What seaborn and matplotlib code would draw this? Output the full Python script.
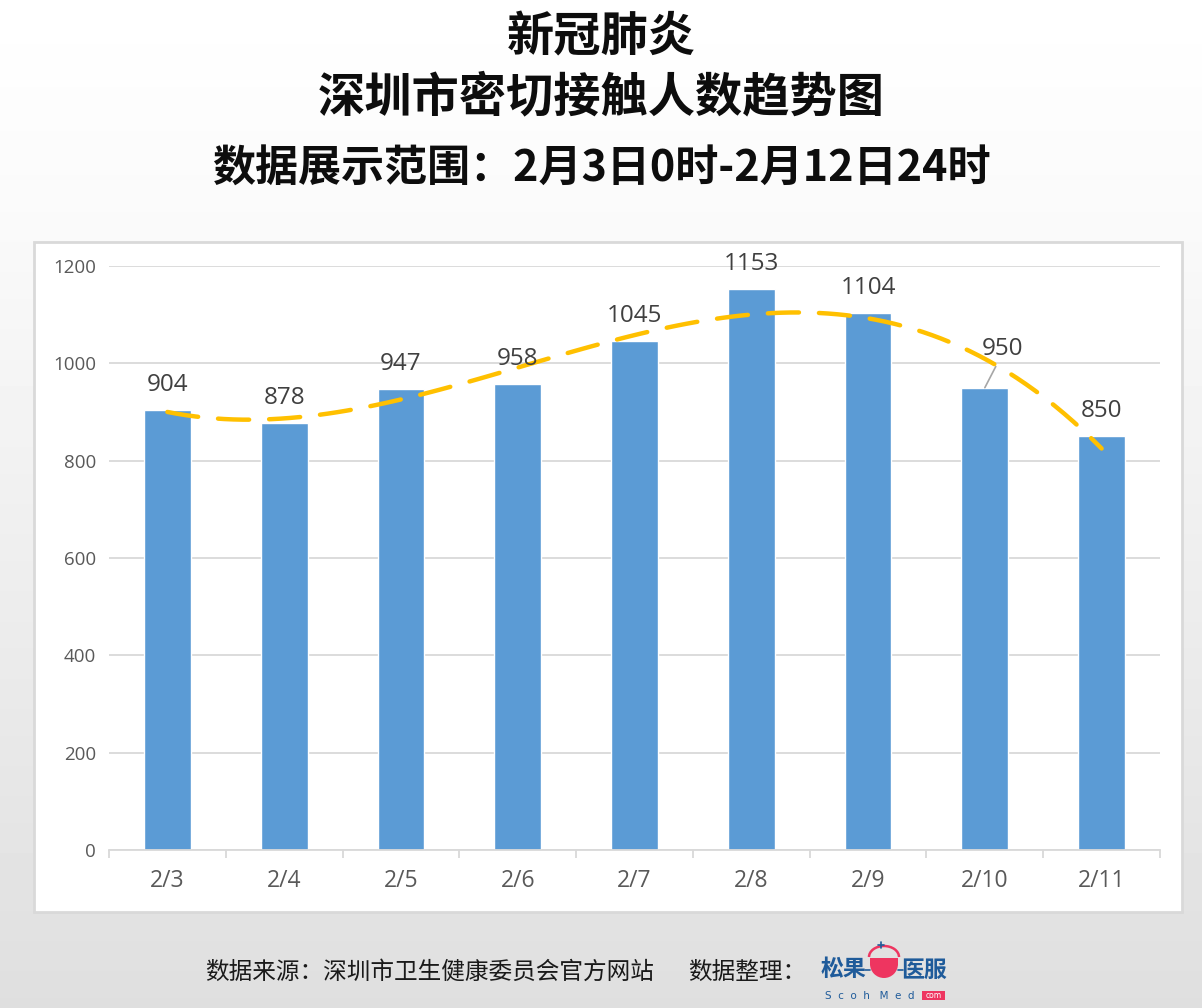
import numpy as np
import pandas as pd
import matplotlib
matplotlib.use('Agg')
import matplotlib.pyplot as plt
import seaborn as sns
from matplotlib.patches import Rectangle, Wedge, Arc
from matplotlib.ticker import FixedLocator

# ---- data ----
dates = ['2/3', '2/4', '2/5', '2/6', '2/7', '2/8', '2/9', '2/10', '2/11']
contacts = [904, 878, 947, 958, 1045, 1153, 1104, 950, 850]
y_ticks = [0, 200, 400, 600, 800, 1000, 1200]

title1 = '新冠肺炎'
title2 = '深圳市密切接触人数趋势图'
title3 = '数据展示范围：2月3日0时-2月12日24时'
source_text = '数据来源：深圳市卫生健康委员会官方网站'
organizer_text = '数据整理：'
logo_left = '松果'
logo_right = '医服'
logo_sub = 'S  c  o  h   M  e  d'

sns.set_theme(style='white')
plt.rcParams['font.family'] = ['Open Sans', 'Noto Sans CJK SC', 'DejaVu Sans']
CJK = ['Noto Sans CJK SC', 'DejaVu Sans']

W, H = 1202, 1008
fig = plt.figure(figsize=(W / 100, H / 100), dpi=100)

# background gradient + white panel (pixel coordinates)
bg = fig.add_axes([0, 0, 1, 1], zorder=-10)
grad = np.interp(np.linspace(0, H, 300), [0, 200, H], [1.0, 0.982, 0.874])
bg.imshow(grad[:, None], cmap='gray', vmin=0, vmax=1, extent=[0, W, H, 0], aspect='auto')
bg.set_xlim(0, W)
bg.set_ylim(H, 0)
bg.axis('off')
bg.add_patch(Rectangle((34, 242), 1148, 670, fc='white', ec='#d9d9d9', lw=2))

# titles
fig.text(0.5, 1 - 37 / H, title1, ha='center', va='center', fontsize=34,
         fontweight='bold', family=CJK, color='#0d0d0d')
fig.text(0.5, 1 - 97 / H, title2, ha='center', va='center', fontsize=34,
         fontweight='bold', family=CJK, color='#0d0d0d')
fig.text(0.5, 1 - 168 / H, title3, ha='center', va='center', fontsize=31,
         fontweight='bold', family=CJK, color='#0d0d0d')

# main axes
ax = fig.add_axes([109 / W, 1 - 850 / H, (1160 - 109) / W, (850 - 266) / H])
ax.patch.set_alpha(0)
df = pd.DataFrame({'date': dates, 'contacts': contacts})
sns.barplot(data=df, x='date', y='contacts', color='#5b9bd5', width=0.4,
            saturation=1, ax=ax, zorder=2)

sns.regplot(x=np.arange(len(dates)), y=np.array(contacts, dtype=float), order=3,
            ci=None, scatter=False, ax=ax,
            line_kws=dict(color='#ffc000', lw=3.2, dashes=(7, 4.5),
                          dash_capstyle='round', zorder=4))

# value labels
for i, v in enumerate(contacts):
    if dates[i] == '2/10':
        ax.annotate(str(v), xy=(i, v), xytext=(13, 28), textcoords='offset points',
                    ha='center', va='center', fontsize=17.5, color='#404040',
                    arrowprops=dict(arrowstyle='-', color='#a6a6a6', lw=1.2,
                                    relpos=(0.4, 0.0), shrinkA=2, shrinkB=0),
                    zorder=5, annotation_clip=False)
    else:
        ax.annotate(str(v), xy=(i, v), xytext=(0, 18), textcoords='offset points',
                    ha='center', va='center', fontsize=17.5, color='#404040',
                    zorder=5, annotation_clip=False)

ax.set_xlim(-0.5, len(dates) - 0.5)
ax.set_ylim(0, 1200)
ax.set_yticks(y_ticks)
ax.set_xlabel('')
ax.set_ylabel('')
ax.yaxis.grid(True, color='#d9d9d9', lw=1.3)
ax.xaxis.grid(False)
ax.set_axisbelow(True)
for s in ['top', 'right', 'left']:
    ax.spines[s].set_visible(False)
ax.spines['bottom'].set_color('#d9d9d9')
ax.spines['bottom'].set_linewidth(1.3)
ax.tick_params(axis='y', length=0, pad=9.5, labelsize=13.5, labelcolor='#595959')
ax.tick_params(axis='x', which='major', length=0, pad=14, labelsize=16.5,
               labelcolor='#595959')
ax.xaxis.set_minor_locator(FixedLocator(np.arange(-0.5, len(dates), 1.0)))
ax.tick_params(axis='x', which='minor', bottom=True, length=6, width=1.3,
               color='#d9d9d9', direction='out')

# footer
fig.text(205 / W, 1 - 972 / H, source_text, ha='left', va='center', fontsize=17,
         family=CJK, color='#1a1a1a')
fig.text(688 / W, 1 - 972 / H, organizer_text, ha='left', va='center', fontsize=17,
         family=CJK, color='#1a1a1a')
logo_blue = '#1f5b9a'
logo_red = '#ee3560'
bg.text(821, 970, logo_left, ha='left', va='center', fontsize=16.5, fontweight='bold',
        family=CJK, color=logo_blue)
bg.text(901, 970, logo_right, ha='left', va='center', fontsize=16.5, fontweight='bold',
        family=CJK, color=logo_blue)
bg.add_patch(Wedge((884, 964), 14, 0, 180, fc=logo_red, ec='none'))
bg.add_patch(Rectangle((870, 958), 28, 7, fc=logo_red, ec='none'))
bg.add_patch(Arc((884, 957), 30, 22, theta1=180, theta2=360, ec=logo_red, lw=1.8))
bg.plot([865, 870], [970, 970], color=logo_blue, lw=1.2)
bg.plot([898, 903], [970, 970], color=logo_blue, lw=1.2)
bg.plot([878, 884], [945, 945], color=logo_blue, lw=1.2)
bg.plot([881, 881], [942, 948], color=logo_blue, lw=1.2)
bg.text(825, 996, logo_sub, ha='left', va='center', fontsize=7.5, color=logo_blue,
        family='DejaVu Sans')
bg.add_patch(Rectangle((922, 991), 23, 9, fc=logo_red, ec='none'))
bg.text(933.5, 995.5, 'com', ha='center', va='center', fontsize=5.5, color='white',
        family='DejaVu Sans')

fig.savefig('out.png', dpi=100)
